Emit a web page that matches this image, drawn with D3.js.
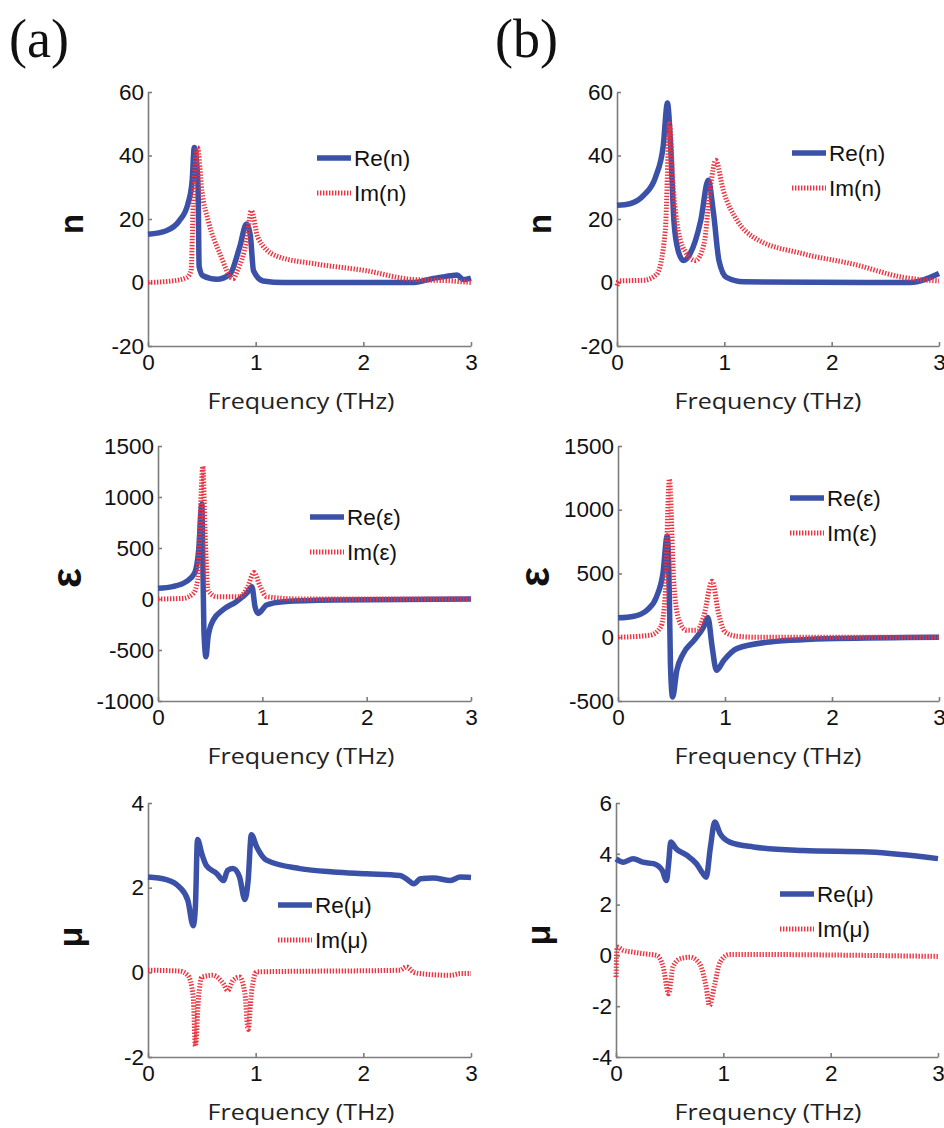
<!DOCTYPE html>
<html><head><meta charset="utf-8">
<script src="https://cdn.jsdelivr.net/npm/d3@7"></script>
<style>
html,body{margin:0;padding:0;background:#fff;}
svg{display:block;}
</style></head>
<body>
<div id="chart"></div>
<script>
// ---------------- DATA ----------------
const xTicks = [0, 1, 2, 3];
const nTicks = [-20, 0, 20, 40, 60];
const epsTicksA = [-1000, -500, 0, 500, 1000, 1500];
const epsTicksB = [-500, 0, 500, 1000, 1500];
const muTicksA = [-2, 0, 2, 4];
const muTicksB = [-4, -2, 0, 2, 4, 6];

const panelLabels = ["(a)", "(b)"];
const xLabel = "Frequency (THz)";
const symbols = ["n", "ε", "μ"];

// [frequency THz, value]
const reN_a = [[0,15.2],[0.17,16.3],[0.29,19.4],[0.37,24.7],[0.41,32],[0.43,42.5],[0.445,40],[0.465,30],[0.475,5],[0.51,2.1],[0.64,1],[0.76,2.6],[0.85,11],[0.915,18.4],[0.95,15],[0.98,3.7],[1.07,0.5],[1.26,0],[2.47,0],[2.65,1.3],[2.81,2.1],[2.87,2.4],[2.93,0.9],[3,1.4]];
const imN_a = [[0,0],[0.23,0.5],[0.36,1.6],[0.40,3.7],[0.42,25],[0.435,35],[0.46,42.5],[0.50,28.9],[0.56,19.4],[0.67,8.9],[0.79,1.2],[0.83,3.7],[0.915,13],[0.96,22.6],[1.02,14.2],[1.19,8.4],[1.57,5.8],[2.03,3.7],[2.44,1],[2.81,0.5],[3,0]];
const reN_b = [[0,24.3],[0.12,24.8],[0.25,27.5],[0.36,33.3],[0.43,42.8],[0.47,56.5],[0.50,42.8],[0.53,19.5],[0.57,10],[0.62,6.9],[0.68,9],[0.78,19.5],[0.85,32.2],[0.90,21.6],[0.95,6.9],[1.02,1.6],[1.18,0.2],[2.73,0],[3,2.85]];
const imN_b = [[0,-1],[0.02,0.5],[0.25,0.7],[0.37,2.6],[0.45,16.4],[0.49,50],[0.52,32],[0.57,16.4],[0.65,9],[0.73,6.9],[0.81,12],[0.87,30],[0.92,38.5],[0.99,29],[1.12,19.5],[1.27,14.3],[1.74,9],[2.2,5.8],[2.67,1.6],[3,0.5]];

const reE_a = [[0,105],[0.14,121],[0.27,170],[0.35,252],[0.39,481],[0.42,930],[0.43,350],[0.44,-304],[0.46,-566],[0.48,-370],[0.53,-206],[0.62,-108],[0.75,-26],[0.85,56],[0.90,121],[0.93,-75],[0.96,-141],[1.04,-59],[1.2,-26],[1.68,-10],[3,0]];
const imE_a = [[0,0],[0.24,6],[0.34,56],[0.38,187],[0.40,677],[0.43,1300],[0.45,677],[0.48,88],[0.56,23],[0.78,23],[0.86,121],[0.92,260],[0.98,121],[1.04,23],[1.36,0],[3,0]];
const reE_b = [[0,152],[0.15,165],[0.27,212],[0.36,317],[0.42,500],[0.46,795],[0.48,317],[0.49,-207],[0.51,-469],[0.55,-259],[0.61,-128],[0.71,-24],[0.80,81],[0.84,155],[0.88,-76],[0.92,-259],[0.99,-180],[1.11,-89],[1.42,-37],[2.04,-10],[3,0]];
const imE_b = [[0,0],[0.30,16],[0.40,81],[0.44,317],[0.48,1240],[0.52,448],[0.57,134],[0.64,55],[0.74,55],[0.80,160],[0.88,440],[0.94,186],[1.0,42],[1.11,8],[1.3,0],[3,0]];

const reM_a = [[0,2.25],[0.17,2.19],[0.29,2.02],[0.37,1.70],[0.42,1.1],[0.44,1.54],[0.46,3.14],[0.50,2.80],[0.54,2.53],[0.64,2.33],[0.70,2.17],[0.74,2.41],[0.79,2.45],[0.85,2.25],[0.90,1.72],[0.93,2.17],[0.96,3.25],[1.01,2.96],[1.10,2.65],[1.41,2.45],[1.72,2.37],[2.03,2.33],[2.34,2.29],[2.40,2.21],[2.47,2.09],[2.53,2.21],[2.65,2.23],[2.81,2.17],[2.9,2.25],[3,2.24]];
const imM_a = [[0,0.05],[0.29,0.03],[0.37,-0.07],[0.42,-0.58],[0.44,-1.74],[0.47,-0.58],[0.50,-0.11],[0.60,-0.07],[0.70,-0.27],[0.74,-0.43],[0.79,-0.19],[0.85,-0.11],[0.90,-0.50],[0.93,-1.35],[0.96,-0.50],[1.01,0.01],[2.34,0.05],[2.40,0.13],[2.47,0],[2.53,-0.03],[2.81,-0.07],[2.9,-0.03],[3,-0.03]];
const reM_b = [[0,3.8],[0.07,3.67],[0.16,3.81],[0.25,3.67],[0.35,3.61],[0.43,3.35],[0.47,2.95],[0.49,3.61],[0.51,4.46],[0.56,4.2],[0.66,3.94],[0.75,3.61],[0.81,3.22],[0.84,3.08],[0.88,4.27],[0.92,5.25],[0.97,4.79],[1.06,4.46],[1.28,4.27],[1.74,4.13],[2.36,4.07],[3,3.81]];
const imM_b = [[0,-0.85],[0.01,0.33],[0.07,0.2],[0.16,0.13],[0.25,0.07],[0.38,0],[0.44,-0.46],[0.49,-1.51],[0.53,-0.46],[0.60,-0.13],[0.69,-0.07],[0.78,-0.33],[0.84,-1.25],[0.87,-1.97],[0.92,-1.12],[0.97,-0.26],[1.06,0.04],[3,-0.04]];

// ---------------- LAYOUT ----------------
const W = 944, H = 1128;
const BLUE = "#3a51a7", RED = "#ee3340", AXIS = "#7d7d7d";
const TICK_FONT = "'Liberation Sans', Arial, sans-serif";

const panels = [
  {L:148,R:471,T:92, B:346, yT:nTicks,    re:reN_a,im:imN_a,sym:0,legX:317,legY:158,labX:74, labY:224,fs:33,off:9,  xlabX:301},
  {L:617,R:939,T:92, B:346, yT:nTicks,    re:reN_b,im:imN_b,sym:0,legX:792,legY:153,labX:542,labY:224,fs:33,off:9,  xlabX:768},
  {L:158,R:471,T:446,B:701, yT:epsTicksA, re:reE_a,im:imE_a,sym:1,legX:310,legY:517,labX:70, labY:578,fs:42,off:11, xlabX:301},
  {L:618,R:939,T:446,B:701, yT:epsTicksB, re:reE_b,im:imE_b,sym:1,legX:790,legY:498,labX:538,labY:577,fs:42,off:11, xlabX:768},
  {L:148,R:471,T:803,B:1057,yT:muTicksA,  re:reM_a,im:imM_a,sym:2,legX:278,legY:905,labX:77, labY:937,fs:34,off:5,  xlabX:301},
  {L:616,R:938,T:803,B:1057,yT:muTicksB,  re:reM_b,im:imM_b,sym:2,legX:780,legY:894,labX:545,labY:935,fs:34,off:5,  xlabX:768}
];

const svg = d3.select("#chart").append("svg")
  .attr("width", W).attr("height", H)
  .attr("viewBox", `0 0 ${W} ${H}`);
svg.append("rect").attr("width", W).attr("height", H).attr("fill", "#fff");

// panel letters
svg.selectAll("text.plabel").data(panelLabels).enter().append("text")
  .attr("class","plabel")
  .attr("x", (d,i) => i === 0 ? 9 : 495)
  .attr("y", 57)
  .attr("font-family", "'Liberation Serif', 'Times New Roman', serif")
  .attr("font-size", 54)
  .attr("fill", "#111")
  .text(d => d);

const fmt = d => String(d);

panels.forEach(p => {
  const x = d3.scaleLinear().domain([0, 3]).range([p.L, p.R]);
  const yDom = d3.extent(p.yT);
  const y = d3.scaleLinear().domain(yDom).range([p.B, p.T]);
  const g = svg.append("g");

  // axes
  const xa = g.append("g").attr("transform", `translate(0,${p.B})`)
    .call(d3.axisBottom(x).tickValues(xTicks).tickSizeInner(-4).tickSizeOuter(0).tickPadding(8).tickFormat(fmt));
  const ya = g.append("g").attr("transform", `translate(${p.L},0)`)
    .call(d3.axisLeft(y).tickValues(p.yT).tickSizeInner(-4).tickSizeOuter(0).tickPadding(4).tickFormat(fmt));
  [xa, ya].forEach(a => {
    a.select(".domain").attr("stroke", AXIS).attr("stroke-width", 1.6);
    a.selectAll(".tick line").attr("stroke", AXIS).attr("stroke-width", 1.6);
    a.selectAll(".tick text").attr("fill", "#111").attr("font-size", 22.5).attr("font-family", TICK_FONT);
  });

  const line = d3.line().x(d => x(d[0])).y(d => y(d[1])).curve(d3.curveMonotoneX);

  g.append("path").datum(p.re).attr("d", line)
    .attr("fill", "none").attr("stroke", BLUE).attr("stroke-width", 5.5)
    .attr("stroke-linejoin", "round");
  g.append("path").datum(p.im).attr("d", line)
    .attr("fill", "none").attr("stroke", RED).attr("stroke-width", 5)
    .attr("stroke-dasharray", "1.4,1.6");

  // legend
  const sym = symbols[p.sym];
  const leg = [
    {t:`Re(${sym})`, c:BLUE, w:5.5, dash:null, dy:0},
    {t:`Im(${sym})`, c:RED,  w:5,   dash:"1.4,1.6", dy:35}
  ];
  leg.forEach(l => {
    g.append("line").attr("x1", p.legX).attr("x2", p.legX + 34)
      .attr("y1", p.legY + l.dy).attr("y2", p.legY + l.dy)
      .attr("stroke", l.c).attr("stroke-width", l.w)
      .attr("stroke-dasharray", l.dash);
    g.append("text").attr("x", p.legX + 37).attr("y", p.legY + l.dy + 8)
      .attr("font-family", TICK_FONT).attr("font-size", 22.5).attr("fill", "#111")
      .text(l.t);
  });

  // y label (rotated, bold)
  g.append("text")
    .attr("transform", `translate(${p.labX + p.off},${p.labY}) rotate(-90)`)
    .attr("text-anchor", "middle")
    .attr("font-family", TICK_FONT).attr("font-weight", "bold")
    .attr("font-size", p.fs).attr("fill", "#111")
    .text(sym);

  // x label
  g.append("text")
    .attr("x", p.xlabX).attr("y", p.B + 63)
    .attr("text-anchor", "middle")
    .attr("font-family", "'Open Sans', 'Noto Sans', sans-serif")
    .attr("font-size", 22).attr("fill", "#222")
    .attr("textLength", 187).attr("lengthAdjust", "spacingAndGlyphs")
    .text(xLabel);
});
</script>
</body></html>
